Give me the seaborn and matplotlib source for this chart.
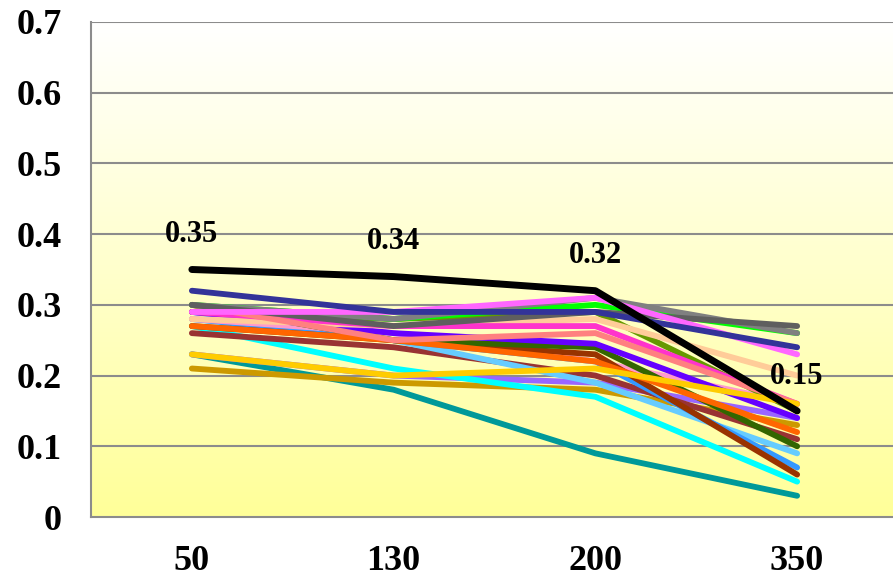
import numpy as np
import pandas as pd
import matplotlib
matplotlib.use("Agg")
import matplotlib.pyplot as plt
import seaborn as sns
from matplotlib.colors import LinearSegmentedColormap

# ---- data ----
categories = ["50", "130", "200", "350"]
y_ticks = [0, 0.1, 0.2, 0.3, 0.4, 0.5, 0.6, 0.7]
y_tick_labels = ["0", "0.1", "0.2", "0.3", "0.4", "0.5", "0.6", "0.7"]

teal = [0.23, 0.18, 0.09, 0.03]
dark_gold = [0.21, 0.19, 0.18, 0.13]
lavender = [0.23, 0.20, 0.19, 0.14]
yellow = [0.23, 0.20, 0.21, 0.16]
cyan = [0.27, 0.21, 0.17, 0.05]
dark_red = [0.26, 0.24, 0.20, 0.11]
light_blue = [0.29, 0.25, 0.19, 0.09]
blue = [0.28, 0.25, 0.22, 0.07]
light_pink = [0.28, 0.26, 0.22, 0.16]
brown = [0.27, 0.25, 0.23, 0.06]
dark_green = [0.30, 0.25, 0.24, 0.10]
orange = [0.27, 0.25, 0.22, 0.12]
violet = [0.29, 0.26, 0.245, 0.14]
olive = [0.29, 0.28, 0.29, 0.15]
peach = [0.28, 0.27, 0.28, 0.20]
hot_pink = [0.29, 0.27, 0.27, 0.16]
salmon = [0.30, 0.25, 0.26, 0.16]
green = [0.30, 0.28, 0.30, 0.26]
gray = [0.30, 0.28, 0.31, 0.26]
dark_gray = [0.30, 0.27, 0.29, 0.27]
magenta = [0.29, 0.29, 0.31, 0.23]
navy = [0.32, 0.29, 0.29, 0.24]
black = [0.35, 0.34, 0.32, 0.15]

series = {
    "teal": (teal, "#009999"),
    "dark_gold": (dark_gold, "#CC9900"),
    "lavender": (lavender, "#9966FF"),
    "cyan": (cyan, "#00FFFF"),
    "dark_red": (dark_red, "#993333"),
    "light_blue": (light_blue, "#66CCFF"),
    "blue": (blue, "#3399FF"),
    "light_pink": (light_pink, "#FF99CC"),
    "brown": (brown, "#993300"),
    "dark_green": (dark_green, "#336600"),
    "orange": (orange, "#FF6600"),
    "violet": (violet, "#6600FF"),
    "olive": (olive, "#669900"),
    "peach": (peach, "#FFCC99"),
    "hot_pink": (hot_pink, "#FF33CC"),
    "salmon": (salmon, "#FF8080"),
    "green": (green, "#00FF00"),
    "gray": (gray, "#808080"),
    "dark_gray": (dark_gray, "#5F5F5F"),
    "magenta": (magenta, "#FF66FF"),
    "navy": (navy, "#333399"),
    "yellow": (yellow, "#FFCC00"),
}

rows = []
for name, (vals, _) in series.items():
    for i, v in enumerate(vals):
        rows.append({"series": name, "pos": i, "value": v})
df = pd.DataFrame(rows)
palette = {name: c for name, (_, c) in series.items()}
df_black = pd.DataFrame({"pos": range(len(categories)), "value": black})

# ---- figure ----
sns.set_theme(style="white")
plt.rcParams["font.family"] = ["Liberation Serif", "DejaVu Serif"]
plt.rcParams["text.color"] = "black"

W, H = 893, 580
fig = plt.figure(figsize=(W / 100, H / 100), dpi=100)
left, right, top, bottom = 91, 898, 22, 517
ax = fig.add_axes([left / W, (H - bottom) / H, (right - left) / W, (bottom - top) / H])

# gradient background: pale yellow at bottom to white at top
cmap = LinearSegmentedColormap.from_list("bg", ["#FFFF99", "#FFFFCC", "#FFFFFF"])
grad = np.linspace(0, 1, 256).reshape(-1, 1)
ax.imshow(grad, aspect="auto", cmap=cmap, extent=[-0.5, 3.5, 0, 0.7], origin="lower", zorder=0)

for yv in y_ticks[1:]:
    ax.axhline(yv, color="#8C8C8C", lw=1.5, zorder=1)

sns.lineplot(data=df, x="pos", y="value", hue="series", palette=palette,
             legend=False, linewidth=4.2, ax=ax, solid_capstyle="round", zorder=3)
sns.lineplot(data=df_black, x="pos", y="value", color="black",
             linewidth=5.0, ax=ax, solid_capstyle="round", zorder=5)

for i, v in enumerate(black):
    ax.annotate(f"{v:.2f}", (i, v), xytext=(0, 25), textcoords="offset points",
                ha="center", va="center", fontsize=22, fontweight="bold",
                color="black", zorder=6)

ax.set_xlim(-0.5, 3.5)
ax.set_ylim(0, 0.7)
ax.set_xticks(range(len(categories)))
ax.set_xticklabels(categories)
ax.set_xticks([-0.5, 0.5, 1.5, 2.5], minor=True)
ax.set_yticks(y_ticks)
ax.set_yticklabels(y_tick_labels)
ax.set_xlabel("")
ax.set_ylabel("")

for lbl in ax.get_xticklabels() + ax.get_yticklabels():
    lbl.set_fontweight("bold")
    lbl.set_fontsize(26)
    lbl.set_color("black")

ax.tick_params(axis="x", which="major", length=0, pad=20)
ax.tick_params(axis="x", which="minor", length=8, width=1.5, color="#8C8C8C", direction="out")
ax.tick_params(axis="y", length=8, width=1.5, color="#8C8C8C", direction="out", pad=13)

for s in ["top", "right"]:
    ax.spines[s].set_visible(False)
for s in ["left", "bottom"]:
    ax.spines[s].set_color("#8C8C8C")
    ax.spines[s].set_linewidth(1.5)

fig.patch.set_facecolor("white")
fig.savefig("out.png", dpi=100)
